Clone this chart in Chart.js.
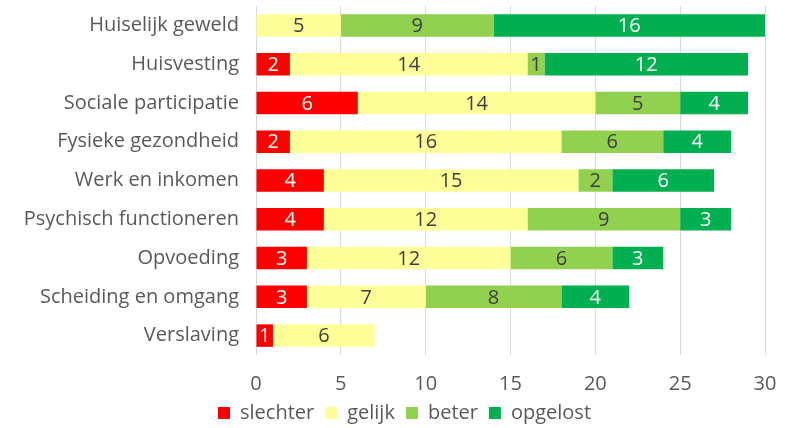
<!DOCTYPE html>
<html>
<head>
<meta charset="utf-8">
<script src="https://cdn.jsdelivr.net/npm/chart.js@4.4.1/dist/chart.umd.min.js"></script>
<style>
  html, body { margin: 0; padding: 0; background: #fff; }
  #wrap { width: 785px; height: 428px; }
</style>
</head>
<body>
<div id="wrap"><canvas id="barChart" width="785" height="428"></canvas></div>
<script>
const categories = ['Huiselijk geweld', 'Huisvesting', 'Sociale participatie', 'Fysieke gezondheid',
  'Werk en inkomen', 'Psychisch functioneren', 'Opvoeding', 'Scheiding en omgang', 'Verslaving'];
const slechter = [0, 2, 6, 2, 4, 4, 3, 3, 1];
const gelijk   = [5, 14, 14, 16, 15, 12, 12, 7, 6];
const beter    = [9, 1, 5, 6, 2, 9, 6, 8, 0];
const opgelost = [16, 12, 4, 4, 6, 3, 3, 4, 0];
const xTicks = [0, 5, 10, 15, 20, 25, 30];

const FONT = '"Open Sans", Lato, sans-serif';
const FSIZE = 20;
const textGrey = '#595959';

// draw the value in the middle of every segment (no datalabels plugin offline)
const valueLabels = {
  id: 'valueLabels',
  afterDatasetsDraw(chart) {
    const ctx = chart.ctx;
    ctx.save();
    ctx.font = FSIZE + 'px ' + FONT;
    ctx.textAlign = 'center';
    ctx.textBaseline = 'middle';
    chart.data.datasets.forEach((ds, i) => {
      const meta = chart.getDatasetMeta(i);
      meta.data.forEach((bar, j) => {
        const v = ds.data[j];
        if (!v) return;
        ctx.fillStyle = ds.labelColor;
        const cx = (bar.x + bar.base) / 2;
        ctx.fillText(String(v), cx, bar.y + 1);
      });
    });
    ctx.restore();
  }
};

// legend in the original sits a bit right of centre
const legendShift = {
  id: 'legendShift',
  afterLayout(chart) {
    if (!chart.legend) return;
    chart.legend.left += 22;
    chart.legend.right += 22;
  }
};

const ctx1 = document.getElementById('barChart').getContext('2d');

new Chart(ctx1, {
  type: 'bar',
  data: {
    labels: categories,
    datasets: [
      { label: 'slechter', data: slechter, backgroundColor: '#FF0000', labelColor: '#ffffff' },
      { label: 'gelijk', data: gelijk, backgroundColor: '#FFFF99', labelColor: '#404040' },
      { label: 'beter', data: beter, backgroundColor: '#92D050', labelColor: '#404040' },
      { label: 'opgelost', data: opgelost, backgroundColor: '#00B050', labelColor: '#ffffff' }
    ]
  },
  options: {
    indexAxis: 'y',
    responsive: false,
    animation: false,
    datasets: {
      bar: { categoryPercentage: 1, barPercentage: 0.58 }
    },
    layout: { padding: { top: 6, right: 20, bottom: -5, left: 0 } },
    scales: {
      x: {
        stacked: true,
        min: 0,
        max: 30,
        afterBuildTicks: scale => { scale.ticks = xTicks.map(v => ({ value: v })); },
        afterFit: scale => {
          scale.height = 37;
          scale.paddingLeft = 0;
          scale.paddingRight = 0;
        },
        grid: { color: '#d9d9d9', drawTicks: false, lineWidth: 1 },
        border: { display: false },
        ticks: { padding: 17, color: textGrey, font: { family: FONT, size: FSIZE } }
      },
      y: {
        stacked: true,
        afterFit: scale => {
          scale.width = 256;
          scale.paddingTop = 0;
          scale.paddingBottom = 0;
        },
        grid: { display: false, drawTicks: false },
        border: { display: false },
        ticks: { padding: 17, color: textGrey, font: { family: FONT, size: FSIZE } }
      }
    },
    plugins: {
      legend: {
        position: 'bottom',
        labels: {
          boxWidth: 12,
          boxHeight: 12,
          padding: 11,
          color: textGrey,
          font: { family: FONT, size: FSIZE }
        }
      },
      tooltip: { enabled: false }
    }
  },
  plugins: [valueLabels, legendShift]
});
</script>
</body>
</html>
